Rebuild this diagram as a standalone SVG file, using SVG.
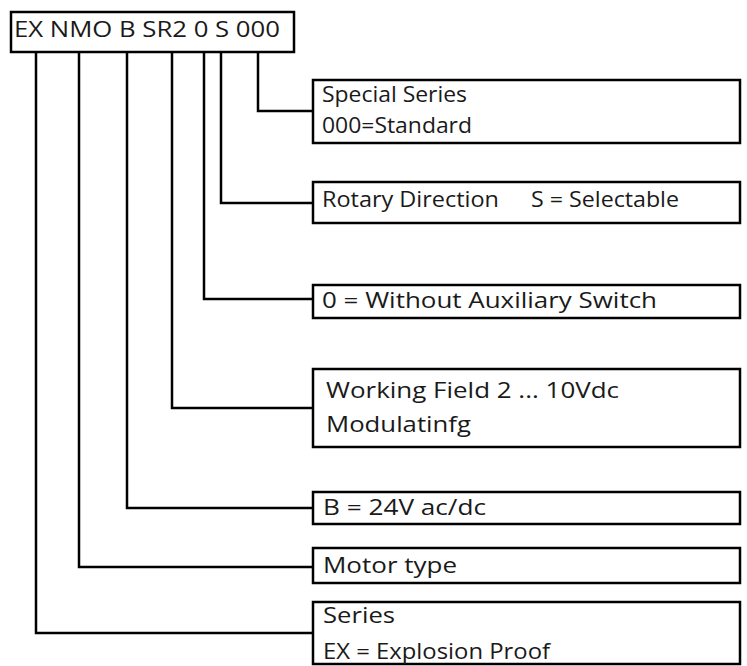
<svg xmlns="http://www.w3.org/2000/svg" width="747" height="666" viewBox="0 0 747 666">
<style>
.box{fill:#fff;stroke:#000;stroke-width:2.5}
.wire{fill:none;stroke:#000;stroke-width:2.5}
text{font-family:"Open Sans","DejaVu Sans",sans-serif;font-size:22px;fill:#1a1a1a}
</style>
<rect width="747" height="666" fill="#fff"/>
<g id="connectors">
<polyline class="wire" points="258,52 258,111 313,111"/>
<polyline class="wire" points="221,52 221,203 313,203"/>
<polyline class="wire" points="204,52 204,299 313,299"/>
<polyline class="wire" points="172,52 172,408 313,408"/>
<polyline class="wire" points="127,52 127,508 313,508"/>
<polyline class="wire" points="79,52 79,567 313,567"/>
<polyline class="wire" points="36,52 36,633 313,633"/>
</g>
<g id="code">
<rect class="box" x="11" y="12" width="283" height="40"/>
<text x="14" y="37" textLength="266" lengthAdjust="spacingAndGlyphs">EX NMO B SR2 0 S 000</text>
</g>
<g id="special">
<rect class="box" x="313" y="80" width="427" height="63"/>
<text x="322" y="102" textLength="145" lengthAdjust="spacingAndGlyphs">Special Series</text>
<text x="322" y="133" textLength="150" lengthAdjust="spacingAndGlyphs">000=Standard</text>
</g>
<g id="rotary">
<rect class="box" x="313" y="182" width="427" height="41"/>
<text x="322" y="207" textLength="177" lengthAdjust="spacingAndGlyphs">Rotary Direction</text>
<text x="531" y="207" textLength="148" lengthAdjust="spacingAndGlyphs">S = Selectable</text>
</g>
<g id="auxiliary">
<rect class="box" x="313" y="285" width="427" height="33"/>
<text x="322" y="308" textLength="335" lengthAdjust="spacingAndGlyphs">0 = Without Auxiliary Switch</text>
</g>
<g id="working">
<rect class="box" x="313" y="369" width="427" height="78"/>
<text x="326" y="398" textLength="293" lengthAdjust="spacingAndGlyphs">Working Field 2 ... 10Vdc</text>
<text x="326" y="432" textLength="145" lengthAdjust="spacingAndGlyphs">Modulatinfg</text>
</g>
<g id="voltage">
<rect class="box" x="313" y="492" width="427" height="32"/>
<text x="323" y="515" textLength="163" lengthAdjust="spacingAndGlyphs">B = 24V ac/dc</text>
</g>
<g id="motor">
<rect class="box" x="313" y="548" width="427" height="35"/>
<text x="323" y="573" textLength="134" lengthAdjust="spacingAndGlyphs">Motor type</text>
</g>
<g id="series">
<rect class="box" x="313" y="602" width="427" height="62"/>
<text x="323" y="623" textLength="72" lengthAdjust="spacingAndGlyphs">Series</text>
<text x="323" y="659" textLength="227" lengthAdjust="spacingAndGlyphs">EX = Explosion Proof</text>
</g>
</svg>
